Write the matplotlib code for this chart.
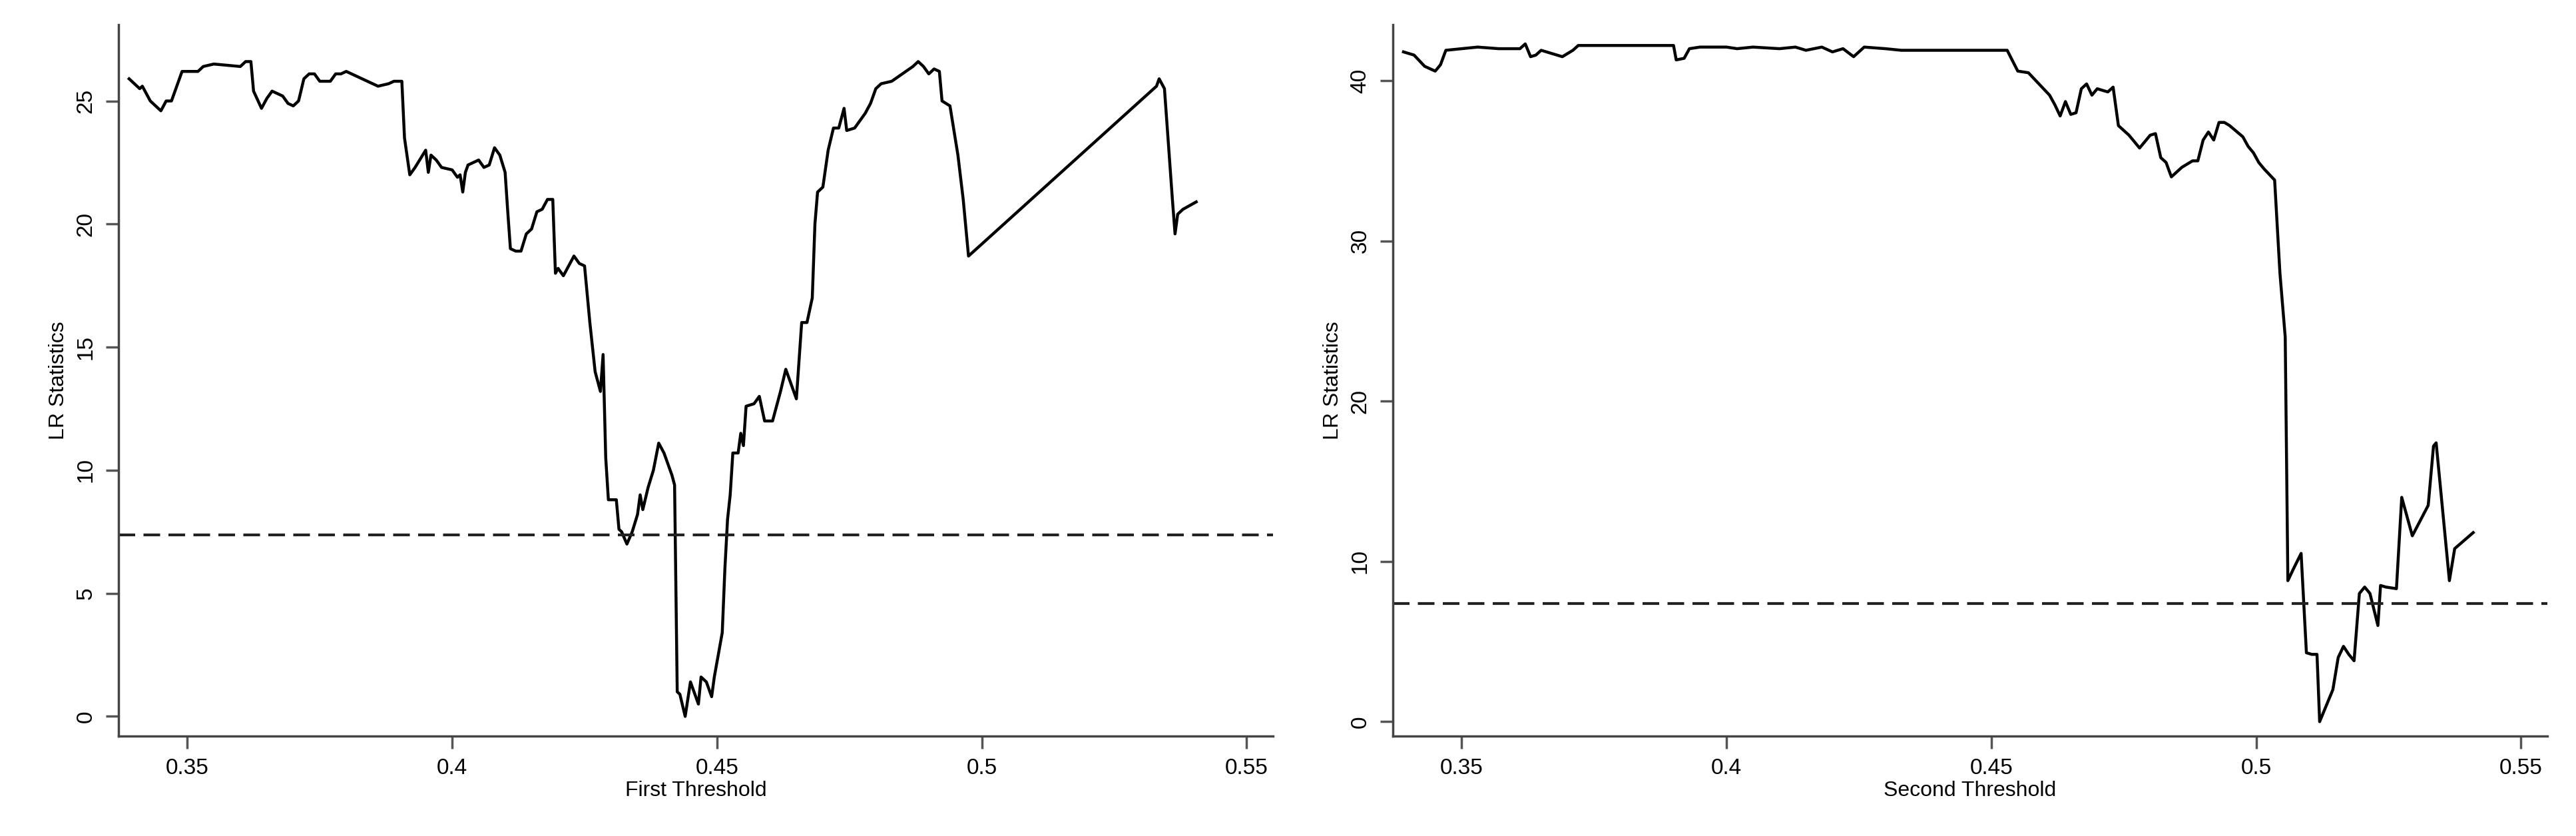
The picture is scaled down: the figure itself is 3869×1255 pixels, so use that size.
import numpy as np
import matplotlib.pyplot as plt

# ── Dados ───────────────────────────────────────────────────────────────────
first_x = [0.339, 0.340, 0.341, 0.3415, 0.343, 0.345, 0.346, 0.347, 0.348, 0.349, 0.352, 0.353,
           0.355, 0.360, 0.361, 0.362, 0.3625, 0.364, 0.365, 0.366, 0.368, 0.369, 0.370, 0.371,
           0.372, 0.373, 0.374, 0.375, 0.377, 0.378, 0.379, 0.380, 0.382, 0.384, 0.386, 0.388,
           0.389, 0.3905, 0.391, 0.392, 0.393, 0.395, 0.3955, 0.396, 0.397, 0.398, 0.400, 0.401,
           0.4015, 0.402, 0.4025, 0.403, 0.405, 0.406, 0.407, 0.408, 0.409, 0.410, 0.4105, 0.411,
           0.412, 0.413, 0.414, 0.415, 0.416, 0.417, 0.418, 0.419, 0.4195, 0.420, 0.421, 0.422,
           0.423, 0.424, 0.425, 0.426, 0.427, 0.428, 0.4285, 0.429, 0.4295, 0.431, 0.4315, 0.432,
           0.433, 0.434, 0.435, 0.4355, 0.436, 0.437, 0.438, 0.439, 0.440, 0.4415, 0.442, 0.4425,
           0.443, 0.444, 0.445, 0.446, 0.4465, 0.447, 0.448, 0.449, 0.4495, 0.451, 0.4515, 0.452,
           0.4525, 0.453, 0.454, 0.4545, 0.455, 0.4555, 0.457, 0.458, 0.459, 0.4605, 0.462, 0.463,
           0.464, 0.465, 0.466, 0.467, 0.468, 0.4685, 0.469, 0.470, 0.471, 0.472, 0.473, 0.474,
           0.4745, 0.476, 0.478, 0.479, 0.480, 0.481, 0.483, 0.485, 0.487, 0.488, 0.489, 0.490,
           0.491, 0.492, 0.4925, 0.494, 0.4955, 0.4965, 0.4975, 0.533, 0.5335, 0.5345, 0.536,
           0.5365, 0.537, 0.538, 0.5405]
first_lr = [25.9, 25.7, 25.5, 25.6, 25.0, 24.6, 25.0, 25.0, 25.6, 26.2, 26.2, 26.4,
            26.5, 26.4, 26.6, 26.6, 25.4, 24.7, 25.1, 25.4, 25.2, 24.9, 24.8, 25.0,
            25.9, 26.1, 26.1, 25.8, 25.8, 26.1, 26.1, 26.2, 26.0, 25.8, 25.6, 25.7,
            25.8, 25.8, 23.5, 22.0, 22.3, 23.0, 22.1, 22.8, 22.6, 22.3, 22.2, 21.9,
            22.0, 21.3, 22.1, 22.4, 22.6, 22.3, 22.4, 23.1, 22.8, 22.1, 20.5, 19.0,
            18.9, 18.9, 19.6, 19.8, 20.5, 20.6, 21.0, 21.0, 18.0, 18.2, 17.9, 18.3,
            18.7, 18.4, 18.3, 16.0, 14.0, 13.2, 14.7, 10.5, 8.8, 8.8, 7.6, 7.5,
            7.0, 7.5, 8.2, 9.0, 8.4, 9.3, 10.0, 11.1, 10.7, 9.8, 9.4, 1.0,
            0.9, 0.0, 1.4, 0.8, 0.5, 1.6, 1.4, 0.8, 1.6, 3.4, 6.0, 8.0,
            9.0, 10.7, 10.7, 11.5, 11.0, 12.6, 12.7, 13.0, 12.0, 12.0, 13.2, 14.1,
            13.5, 12.9, 16.0, 16.0, 17.0, 20.0, 21.3, 21.5, 23.0, 23.9, 23.9, 24.7,
            23.8, 23.9, 24.5, 24.9, 25.5, 25.7, 25.8, 26.1, 26.4, 26.6, 26.4, 26.1,
            26.3, 26.2, 25.0, 24.8, 22.8, 21.0, 18.7, 25.6, 25.9, 25.5, 21.0,
            19.6, 20.4, 20.6, 20.9]

second_x = [0.339, 0.341, 0.343, 0.345, 0.346, 0.347, 0.350, 0.353, 0.357, 0.361, 0.362, 0.363,
            0.364, 0.365, 0.367, 0.369, 0.371, 0.372, 0.380, 0.390, 0.3905, 0.392, 0.393, 0.395,
            0.400, 0.402, 0.405, 0.410, 0.413, 0.415, 0.418, 0.420, 0.422, 0.424, 0.426, 0.430,
            0.433, 0.453, 0.455, 0.457, 0.459, 0.461, 0.462, 0.463, 0.464, 0.465, 0.466, 0.467,
            0.468, 0.469, 0.470, 0.472, 0.473, 0.474, 0.476, 0.478, 0.480, 0.481, 0.482, 0.483,
            0.484, 0.486, 0.488, 0.489, 0.490, 0.491, 0.492, 0.493, 0.494, 0.495, 0.4975, 0.4985,
            0.4995, 0.5005, 0.5015, 0.5035, 0.5045, 0.5055, 0.506, 0.507, 0.5085, 0.5095, 0.5105, 0.5115,
            0.512, 0.5145, 0.5155, 0.5165, 0.5175, 0.5185, 0.5195, 0.5205, 0.5215, 0.523, 0.5235, 0.5245,
            0.5265, 0.5275, 0.5295, 0.5325, 0.5335, 0.534, 0.5365, 0.5375, 0.541]
second_lr = [41.8, 41.6, 40.9, 40.6, 41.0, 41.9, 42.0, 42.1, 42.0, 42.0, 42.3, 41.5,
             41.6, 41.9, 41.7, 41.5, 41.9, 42.2, 42.2, 42.2, 41.3, 41.4, 42.0, 42.1,
             42.1, 42.0, 42.1, 42.0, 42.1, 41.9, 42.1, 41.8, 42.0, 41.5, 42.1, 42.0,
             41.9, 41.9, 40.6, 40.5, 39.8, 39.1, 38.5, 37.8, 38.7, 37.9, 38.0, 39.5,
             39.8, 39.1, 39.5, 39.3, 39.6, 37.2, 36.6, 35.8, 36.6, 36.7, 35.2, 34.9,
             34.0, 34.6, 35.0, 35.0, 36.3, 36.8, 36.3, 37.4, 37.4, 37.2, 36.5, 35.9,
             35.5, 34.9, 34.5, 33.8, 28.0, 24.0, 8.8, 9.5, 10.5, 4.3, 4.2, 4.2,
             0.0, 2.0, 4.0, 4.7, 4.2, 3.8, 8.0, 8.4, 8.0, 6.0, 8.5, 8.4,
             8.3, 14.0, 11.6, 13.5, 17.2, 17.4, 8.8, 10.8, 11.8]

critical_value = 7.38
x_ticks = [0.35, 0.4, 0.45, 0.5, 0.55]
x_ticklabels = ["0.35", "0.4", "0.45", "0.5", "0.55"]

panels = [
    (first_x, first_lr, "First Threshold", [0, 5, 10, 15, 20, 25], (-0.8, 28.1)),
    (second_x, second_lr, "Second Threshold", [0, 10, 20, 30, 40], (-0.9, 43.5)),
]

plt.rcParams.update({
    "font.family": ["Liberation Sans", "DejaVu Sans"],
    "axes.spines.top": False,
    "axes.spines.right": False,
})

fig = plt.figure(figsize=(38.69, 12.55), dpi=100)
lefts = [178 / 3869, 2092 / 3869]
width = 1734 / 3869
bottom = 1 - 1105 / 1255
height = (1105 - 37) / 1255

for left, (xs, ys, xlabel, yticks, ylim) in zip(lefts, panels):
    ax = fig.add_axes([left, bottom, width, height])
    ax.plot(xs, ys, color="black", linewidth=3.2)
    ax.axhline(critical_value, color="#222222", linewidth=3.0, linestyle=(0, (6, 3)))
    ax.set_xlim(0.337, 0.555)
    ax.set_ylim(*ylim)
    ax.set_xticks(x_ticks)
    ax.set_xticklabels(x_ticklabels)
    ax.set_yticks(yticks)
    ax.set_yticklabels([str(t) for t in yticks], rotation=90, va="center")
    ax.tick_params(axis="both", labelsize=24, length=14, width=2.5, color="#555555",
                   direction="out", pad=10)
    for s in ("left", "bottom"):
        ax.spines[s].set_linewidth(2.5)
        ax.spines[s].set_color("#444444")
    ax.set_xlabel(xlabel, fontsize=23, labelpad=2)
    ax.set_ylabel("LR Statistics", fontsize=23, labelpad=8)

fig.savefig("out.png", dpi=100, facecolor="white")
plt.close(fig)
